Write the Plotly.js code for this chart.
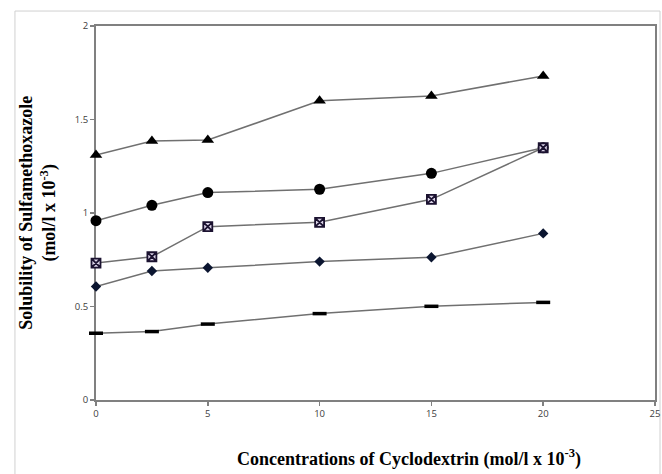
<!DOCTYPE html>
<html>
<head>
<meta charset="utf-8">
<script src="https://cdn.plot.ly/plotly-3.0.1.min.js"></script>
<style>html,body{margin:0;padding:0;background:#fff;}#chart{width:662px;height:474px;}</style>
</head>
<body>
<div id="chart"></div>
<script>
const concentrations = [0, 2.5, 5, 10, 15, 20];
const seriesTriangle = [1.31, 1.385, 1.39, 1.60, 1.626, 1.733];
const seriesCircle   = [0.959, 1.041, 1.109, 1.127, 1.212, 1.349];
const seriesSquare   = [0.732, 0.766, 0.927, 0.950, 1.073, 1.349];
const seriesDiamond  = [0.607, 0.690, 0.707, 0.740, 0.763, 0.891];
const seriesDash     = [0.357, 0.366, 0.406, 0.462, 0.501, 0.522];
const xTicks = [0, 5, 10, 15, 20, 25];
const yTicks = [0, 0.5, 1, 1.5, 2];

const lineStyle = {color: '#707070', width: 1.5};
const traces = [
  {x: concentrations, y: seriesDash, mode: 'lines+markers', line: lineStyle, cliponaxis: false,
   marker: {symbol: 'line-ew', size: 10, line: {color: '#000', width: 3.5}}},
  {x: concentrations, y: seriesDiamond, mode: 'lines+markers', line: lineStyle, cliponaxis: false,
   marker: {symbol: 'diamond', size: 8, color: '#0b1530', line: {color: '#0b1530', width: 0}}},
  {x: concentrations, y: seriesCircle, mode: 'lines+markers', line: lineStyle, cliponaxis: false,
   marker: {symbol: 'circle', size: 11, color: '#000'}},
  {x: concentrations, y: seriesSquare, mode: 'lines+markers', line: lineStyle, cliponaxis: false,
   marker: {symbol: 'square-x', size: 9, color: '#d9d2e6', line: {color: '#1b1230', width: 1.8}}},
  {x: concentrations, y: seriesTriangle, mode: 'lines+markers', line: lineStyle, cliponaxis: false,
   marker: {symbol: 'triangle-up', size: 11, color: '#000'}}
];

const tickFont = {family: 'Open Sans, Liberation Sans, sans-serif', size: 9.5, color: '#404040'};
const titleFont = {family: 'Liberation Serif, Times New Roman, serif', size: 18, color: '#000'};

const layout = {
  width: 662, height: 474,
  margin: {l: 96, r: 7, t: 26, b: 74},
  paper_bgcolor: '#fff', plot_bgcolor: '#fff',
  showlegend: false,
  xaxis: {
    range: [0, 25], tickvals: xTicks, ticktext: xTicks.map(String),
    showgrid: false, zeroline: false, layer: 'below traces',
    showline: true, linecolor: '#808080', linewidth: 2, mirror: true,
    ticks: 'outside', ticklen: 4, tickcolor: '#808080', tickwidth: 1.5,
    tickfont: tickFont
  },
  yaxis: {
    range: [0, 2], tickvals: yTicks, ticktext: yTicks.map(String),
    showgrid: false, zeroline: false, layer: 'below traces',
    showline: true, linecolor: '#808080', linewidth: 2, mirror: true,
    ticks: 'outside', ticklen: 4, tickcolor: '#808080', tickwidth: 1.5,
    tickfont: tickFont
  },
  annotations: [
    {xref: 'paper', yref: 'paper', x: 0.56, y: -0.155, xanchor: 'center', yanchor: 'middle',
     showarrow: false, font: titleFont,
     text: '<b>Concentrations of Cyclodextrin (mol/l x 10<sup>-3</sup>)</b>'},
    {xref: 'paper', yref: 'paper', x: -0.104, y: 0.5, xanchor: 'center', yanchor: 'middle',
     showarrow: false, textangle: -90, font: titleFont,
     text: '<b>Solubility of Sulfamethoxazole<br>(mol/l x 10<sup>-3</sup>)</b>'}
  ],
  shapes: [
    {type: 'rect', xref: 'paper', yref: 'paper', x0: -0.145, x1: 1.009, y0: -0.2, y1: 1.04,
     line: {color: '#d0d0d0', width: 1}, fillcolor: 'rgba(0,0,0,0)', layer: 'below'}
  ]
};

Plotly.newPlot('chart', traces, layout, {displayModeBar: false, staticPlot: true});
</script>
</body>
</html>
